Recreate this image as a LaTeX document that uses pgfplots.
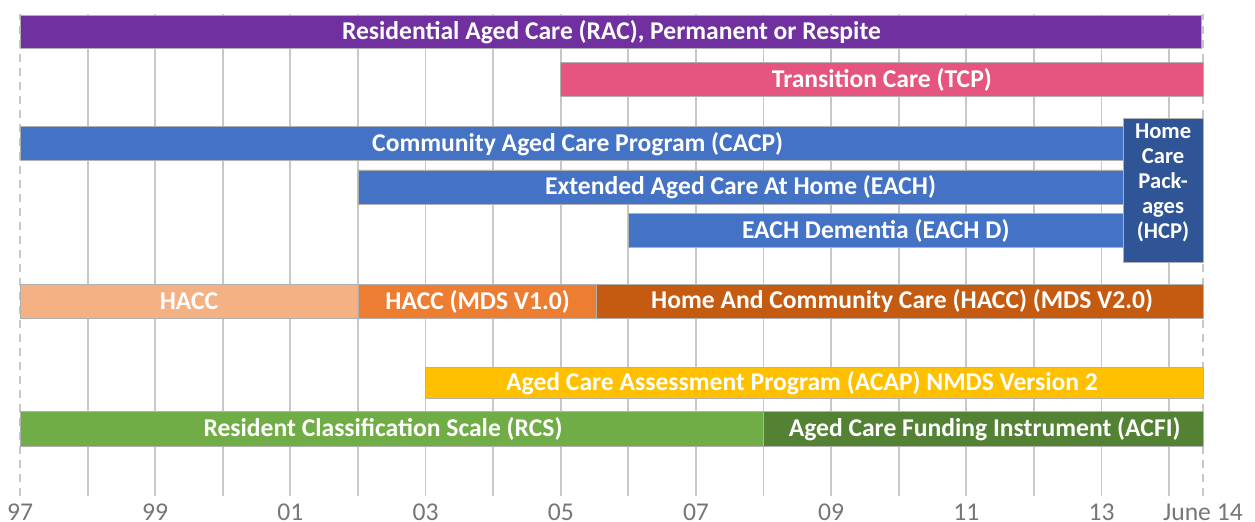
\documentclass[border=0pt]{standalone}
\usepackage{pgfplots}
\pgfplotsset{compat=1.18}
\usepackage{fontspec}
\setmainfont{Carlito}
\definecolor{cRAC}{HTML}{7030A0}
\definecolor{cTCP}{HTML}{E5557F}
\definecolor{cBlue}{HTML}{4472C4}
\definecolor{cHCP}{HTML}{2F5597}
\definecolor{cHACCa}{HTML}{F4B183}
\definecolor{cHACCb}{HTML}{ED7D31}
\definecolor{cHACCc}{HTML}{C55A11}
\definecolor{cACAP}{HTML}{FFC000}
\definecolor{cRCS}{HTML}{70AD47}
\definecolor{cACFI}{HTML}{548235}
\definecolor{cgrid}{HTML}{C8C8C8}
\definecolor{ctick}{HTML}{767676}
\definecolor{cedge}{HTML}{B0B0B0}
% bar: x0, x1, ybottom, ytop, colour
\newcommand{\gbar}[5]{\addplot[fill=#5, draw=cedge, line width=0.3pt] coordinates {(#1,#3) (#2,#3) (#2,#4) (#1,#4) (#1,#3)};}
\begin{document}
\begin{tikzpicture}
\begin{axis}[
  x=33.8pt, y=0.5pt,
  xmin=-0.2959, xmax=18.27, ymin=30, ymax=512,
  axis line style={draw=none},
  ytick=\empty,
  xtick={2,4,...,16},
  xticklabels={99,01,03,05,07,09,11,13},
  minor xtick={1,3,...,17},
  extra x ticks={0,17.5},
  extra x tick labels={97,June 14},
  extra x tick style={major grid style={cgrid, line width=0.9pt, dash pattern=on 4pt off 3pt}},
  xmajorgrids, xminorgrids,
  major grid style={cgrid, line width=0.9pt},
  minor grid style={cgrid, line width=0.9pt},
  major tick length=0pt, minor tick length=0pt,
  xticklabel style={font=\fontsize{12.8}{14}\selectfont, text=ctick, anchor=base, inner sep=0pt, yshift=-12.5pt},
  clip=false,
]
\gbar{0}{17.47}{477.7}{510.7}{cRAC}
\gbar{8}{17.5}{429.3}{463.7}{cTCP}
\gbar{0}{16.32}{365.3}{399.3}{cBlue}
\gbar{5}{16.32}{322}{356}{cBlue}
\gbar{9}{16.32}{278.3}{312.7}{cBlue}
\gbar{16.32}{17.5}{264}{407.7}{cHCP}
\gbar{0}{5}{207.3}{241.7}{cHACCa}
\gbar{5}{8.53}{207.3}{241.7}{cHACCb}
\gbar{8.53}{17.5}{207.3}{241.7}{cHACCc}
\gbar{6}{17.5}{127.7}{158.7}{cACAP}
\gbar{0}{11}{79.3}{114.3}{cRCS}
\gbar{11}{17.5}{79.3}{114.3}{cACFI}
\path (axis cs:0,526);
\tikzset{lab/.style={text=white, font=\bfseries\fontsize{12.8}{12.5}\selectfont, anchor=center}}
\node[lab] at (axis cs:8.75,494.2) {Residential Aged Care (RAC), Permanent or Respite};
\node[lab] at (axis cs:12.75,446.5) {Transition Care (TCP)};
\node[lab] at (axis cs:8.25,382.3) {Community Aged Care Program (CACP)};
\node[lab] at (axis cs:10.66,339) {Extended Aged Care At Home (EACH)};
\node[lab] at (axis cs:12.66,295.5) {EACH Dementia (EACH D)};
\node[lab, align=center, font=\bfseries\fontsize{11.3}{12.5}\selectfont] at (axis cs:16.91,343) {Home\\Care\\Pack-\\ages\\(HCP)};
\node[lab] at (axis cs:2.5,224.5) {HACC};
\node[lab] at (axis cs:6.77,224.5) {HACC (MDS V1.0)};
\node[lab] at (axis cs:13.05,224.5) {Home And Community Care (HACC) (MDS V2.0)};
\node[lab] at (axis cs:11.57,143.2) {Aged Care Assessment Program (ACAP) NMDS Version 2};
\node[lab] at (axis cs:5.37,96.8) {Resident Classification Scale (RCS)};
\node[lab] at (axis cs:14.27,96.8) {Aged Care Funding Instrument (ACFI)};
\end{axis}
\end{tikzpicture}
\end{document}
